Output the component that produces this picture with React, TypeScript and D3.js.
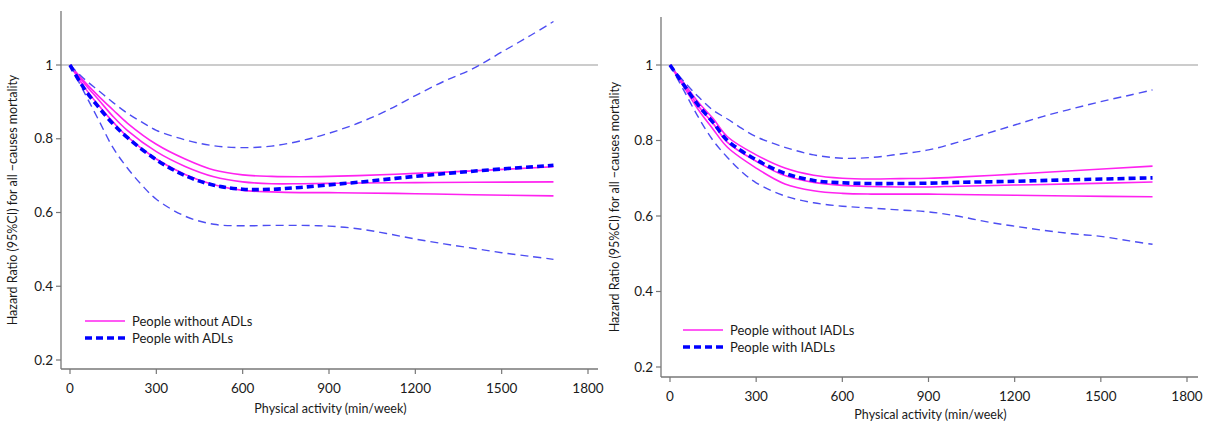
import React from "react";
import * as d3 from "d3";

// x positions (min/week) at which the curves were read
const xsLeft = [0, 50, 100, 150, 200, 300, 400, 500, 600, 700, 800, 900, 1000, 1200, 1400, 1680];
const xsCI = [0, 50, 100, 150, 200, 250, 300, 400, 500, 600, 700, 800, 900, 1000, 1100, 1200, 1300, 1400, 1500, 1600, 1680];

// left panel: ADLs
const adlNoMid = [1, 0.95, 0.905, 0.86, 0.822, 0.765, 0.725, 0.697, 0.683, 0.678, 0.678, 0.679, 0.68, 0.681, 0.682, 0.683];
const adlNoHi = [1, 0.955, 0.915, 0.878, 0.842, 0.785, 0.745, 0.715, 0.702, 0.698, 0.697, 0.698, 0.7, 0.706, 0.713, 0.724];
const adlNoLo = [1, 0.94, 0.89, 0.845, 0.805, 0.745, 0.703, 0.675, 0.66, 0.656, 0.654, 0.654, 0.653, 0.651, 0.648, 0.645];
const adlYes = [1, 0.935, 0.885, 0.84, 0.803, 0.743, 0.7, 0.674, 0.663, 0.663, 0.668, 0.675, 0.682, 0.698, 0.712, 0.728];
const adlYesHi = [1, 0.962, 0.93, 0.898, 0.869, 0.845, 0.823, 0.797, 0.781, 0.776, 0.78, 0.794, 0.815, 0.842, 0.876, 0.917, 0.956, 0.99, 1.035, 1.08, 1.118];
const adlYesLo = [1, 0.925, 0.85, 0.775, 0.72, 0.674, 0.636, 0.59, 0.568, 0.564, 0.565, 0.565, 0.563, 0.556, 0.543, 0.528, 0.515, 0.503, 0.491, 0.481, 0.473];

// right panel: IADLs
const iadlNoMid = [1, 0.945, 0.89, 0.845, 0.795, 0.745, 0.707, 0.689, 0.681, 0.678, 0.677, 0.677, 0.679, 0.682, 0.685, 0.69];
const iadlNoHi = [1, 0.95, 0.9, 0.858, 0.81, 0.762, 0.727, 0.708, 0.7, 0.698, 0.699, 0.7, 0.703, 0.711, 0.72, 0.732];
const iadlNoLo = [1, 0.94, 0.88, 0.83, 0.782, 0.727, 0.685, 0.667, 0.66, 0.658, 0.658, 0.658, 0.657, 0.655, 0.653, 0.651];
const iadlYes = [1, 0.945, 0.892, 0.848, 0.8, 0.749, 0.713, 0.694, 0.688, 0.686, 0.686, 0.687, 0.689, 0.692, 0.696, 0.701];
const iadlYesHi = [1, 0.955, 0.915, 0.88, 0.857, 0.832, 0.81, 0.782, 0.762, 0.753, 0.755, 0.764, 0.775, 0.795, 0.818, 0.841, 0.864, 0.884, 0.903, 0.92, 0.934];
const iadlYesLo = [1, 0.93, 0.86, 0.8, 0.755, 0.717, 0.688, 0.653, 0.635, 0.626, 0.621, 0.616, 0.611, 0.6, 0.585, 0.573, 0.562, 0.553, 0.546, 0.534, 0.525];

const xTicks = [0, 300, 600, 900, 1200, 1500, 1800];
const yTicks = [0.2, 0.4, 0.6, 0.8, 1];

const FONT = "Lato, 'Open Sans', sans-serif";
const PINK = "#ff22f0";
const BLUE = "#0000ff";
const BLUE_CI = "#4d4df2";

type PanelProps = {
  axX: number; axTop: number; axBottom: number; axRight: number;
  x0: number; x1800: number; y1: number; y02: number;
  labelX: number; xLabelY: number; legX: number; legY: number;
  group: string;
  noMid: number[]; noHi: number[]; noLo: number[];
  yes: number[]; yesHi: number[]; yesLo: number[];
};

const Panel = (p: PanelProps) => {
  const x = d3.scaleLinear().domain([0, 1800]).range([p.x0, p.x1800]);
  const y = d3.scaleLinear().domain([0.2, 1]).range([p.y02, p.y1]);
  const line = (xs: number[], vs: number[]) =>
    d3.line<number>().x((_, i) => x(xs[i])).y(v => y(v)).curve(d3.curveCatmullRom.alpha(0.5))(vs) || "";
  const yMid = (p.axTop + p.axBottom) / 2 + 10;

  return (
    <g fontFamily={FONT}>
      {/* reference line at HR = 1 */}
      <line x1={p.axX} x2={p.axRight} y1={y(1)} y2={y(1)} stroke="#999" strokeWidth={1.2} />

      {/* axes */}
      <line x1={p.axX} x2={p.axX} y1={p.axTop} y2={p.axBottom} stroke="#777" strokeWidth={1.3} />
      <line x1={p.axX} x2={p.axRight} y1={p.axBottom} y2={p.axBottom} stroke="#777" strokeWidth={1.3} />
      {yTicks.map(t => (
        <g key={t}>
          <line x1={p.axX - 5} x2={p.axX} y1={y(t)} y2={y(t)} stroke="#777" strokeWidth={1.2} />
          <text x={p.axX - 8} y={y(t)} dy="0.35em" textAnchor="end" fontSize={13.5} fill="#1a1a1a">
            {t === 1 ? "1" : t.toFixed(1)}
          </text>
        </g>
      ))}
      {xTicks.map(t => (
        <g key={t}>
          <line x1={x(t)} x2={x(t)} y1={p.axBottom} y2={p.axBottom + 5} stroke="#777" strokeWidth={1.2} />
          <text x={x(t)} y={p.axBottom + 24} textAnchor="middle" fontSize={13.5} fill="#1a1a1a">{t}</text>
        </g>
      ))}
      <text x={(p.axX + p.axRight) / 2 + 1} y={p.xLabelY} textAnchor="middle" fontSize={12.5} fill="#1a1a1a">
        Physical activity (min/week)
      </text>
      <text transform={`translate(${p.labelX},${yMid}) rotate(-90)`} textAnchor="middle" fontSize={12.5} fill="#1a1a1a">
        Hazard Ratio (95%CI) for all −causes mortality
      </text>

      {/* people without limitation: estimate and CI (solid pink) */}
      {[p.noHi, p.noMid, p.noLo].map((vs, i) => (
        <path key={"n" + i} d={line(xsLeft, vs)} fill="none" stroke={PINK} strokeWidth={1.6} />
      ))}
      {/* people with limitation: CI (thin dashed) and estimate (thick dashed) */}
      {[p.yesHi, p.yesLo].map((vs, i) => (
        <path key={"c" + i} d={line(xsCI, vs)} fill="none" stroke={BLUE_CI} strokeWidth={1.4} strokeDasharray="8,5" />
      ))}
      <path d={line(xsLeft, p.yes)} fill="none" stroke={BLUE} strokeWidth={3.6} strokeDasharray="7,4" />

      {/* legend */}
      <line x1={p.legX} x2={p.legX + 40} y1={p.legY} y2={p.legY} stroke={PINK} strokeWidth={1.6} />
      <line x1={p.legX} x2={p.legX + 40} y1={p.legY + 17} y2={p.legY + 17} stroke={BLUE} strokeWidth={3.4} strokeDasharray="7,4" />
      <text x={p.legX + 47} y={p.legY} dy="0.35em" fontSize={13} fill="#1a1a1a">People without {p.group}</text>
      <text x={p.legX + 47} y={p.legY + 17} dy="0.35em" fontSize={13} fill="#1a1a1a">People with {p.group}</text>
    </g>
  );
};

export default function App() {
  return (
    <svg width={1213} height={422} style={{ position: "absolute", left: 0, top: 0, background: "#fff" }}>
      <Panel
        axX={61} axTop={11} axBottom={369} axRight={598}
        x0={70} x1800={588} y1={65} y02={360}
        labelX={17} xLabelY={413} legX={85} legY={321}
        group="ADLs"
        noMid={adlNoMid} noHi={adlNoHi} noLo={adlNoLo}
        yes={adlYes} yesHi={adlYesHi} yesLo={adlYesLo}
      />
      <Panel
        axX={661} axTop={17} axBottom={377} axRight={1198}
        x0={670} x1800={1187} y1={65} y02={367}
        labelX={619} xLabelY={419} legX={683} legY={330}
        group="IADLs"
        noMid={iadlNoMid} noHi={iadlNoHi} noLo={iadlNoLo}
        yes={iadlYes} yesHi={iadlYesHi} yesLo={iadlYesLo}
      />
    </svg>
  );
}
